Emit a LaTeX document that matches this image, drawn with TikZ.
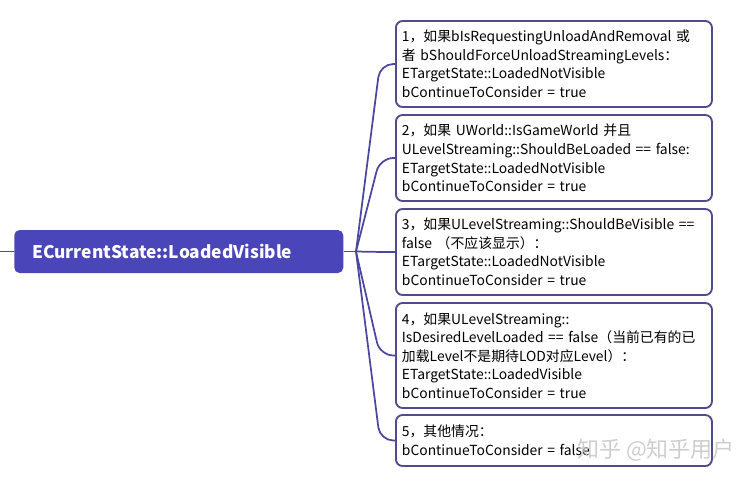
\documentclass[tikz,border=0pt]{standalone}
\usepackage{fontspec}
\setmainfont{Noto Sans CJK SC}
\usetikzlibrary{calc,positioning}
\definecolor{rootfill}{RGB}{74, 69, 184}
\definecolor{boxline}{RGB}{80, 76, 140}
\definecolor{branch}{RGB}{76, 71, 158}

\begin{document}
\begin{tikzpicture}[x=0.75pt, y=-0.75pt,
    rootbox/.style={fill=rootfill, text=white, rounded corners=4pt, anchor=west,
        text width=219.75pt, inner xsep=13.5pt, inner ysep=0pt, minimum height=32.25pt,
        align=left, font=\fontsize{13}{15}\selectfont\bfseries},
    leafbox/.style={draw=boxline, line width=1.4pt, rounded corners=5pt, fill=white, anchor=west,
        text width=228pt, inner xsep=4.5pt, inner ysep=0pt, align=left,
        font=\fontsize{10.4}{13.9}\selectfont},
    branchline/.style={draw=branch, line width=1.3pt, rounded corners=10pt},
    watermark/.style={text=gray!45, opacity=0.85, font=\fontsize{16.5}{18}\selectfont}]
    % Frame
    \useasboundingbox[fill=white] (0,0) rectangle (754,483);

    % Root
    \node[rootbox] (root) at (14,251.5) {ECurrentState::LoadedVisible};
    \coordinate (stub) at (0,251.5);
    \coordinate (hub) at (356,251.5);
    \draw[boxline, line width=1.3pt] (stub) -- (root.west);
    \draw[branch, line width=1.3pt] (root.east) -- (hub);

    % Cases
    \node[leafbox, minimum height=64.5pt] (case1) at (395,64)
        {1，如果bIsRequestingUnloadAndRemoval 或\\者 bShouldForceUnloadStreamingLevels：\\ETargetState::LoadedNotVisible\\bContinueToConsider = true};
    \node[leafbox, minimum height=64.5pt] (case2) at (395,158)
        {2，如果 UWorld::IsGameWorld 并且\\ULevelStreaming::ShouldBeLoaded == false:\\ETargetState::LoadedNotVisible\\bContinueToConsider = true};
    \node[leafbox, minimum height=64.5pt] (case3) at (395,252)
        {3，如果ULevelStreaming::ShouldBeVisible ==\\false （不应该显示）：\\ETargetState::LoadedNotVisible\\bContinueToConsider = true};
    \node[leafbox, minimum height=78.75pt] (case4) at (395,355.5)
        {4，如果ULevelStreaming::\\IsDesiredLevelLoaded == false（当前已有的已\\加载Level不是期待LOD对应Level）：\\ETargetState::LoadedVisible\\bContinueToConsider = true};
    \node[leafbox, minimum height=38.25pt] (case5) at (395,440.5)
        {5，其他情况：\\bContinueToConsider = false};

    % Branches
    \foreach \i in {1,...,5}
        \draw[branchline] (hub) -- ($(case\i.west)+(-15,0)$) -- (case\i.west);

    \node[watermark] (mark) at (656,450) {知乎 @知乎用户};
\end{tikzpicture}
\end{document}
